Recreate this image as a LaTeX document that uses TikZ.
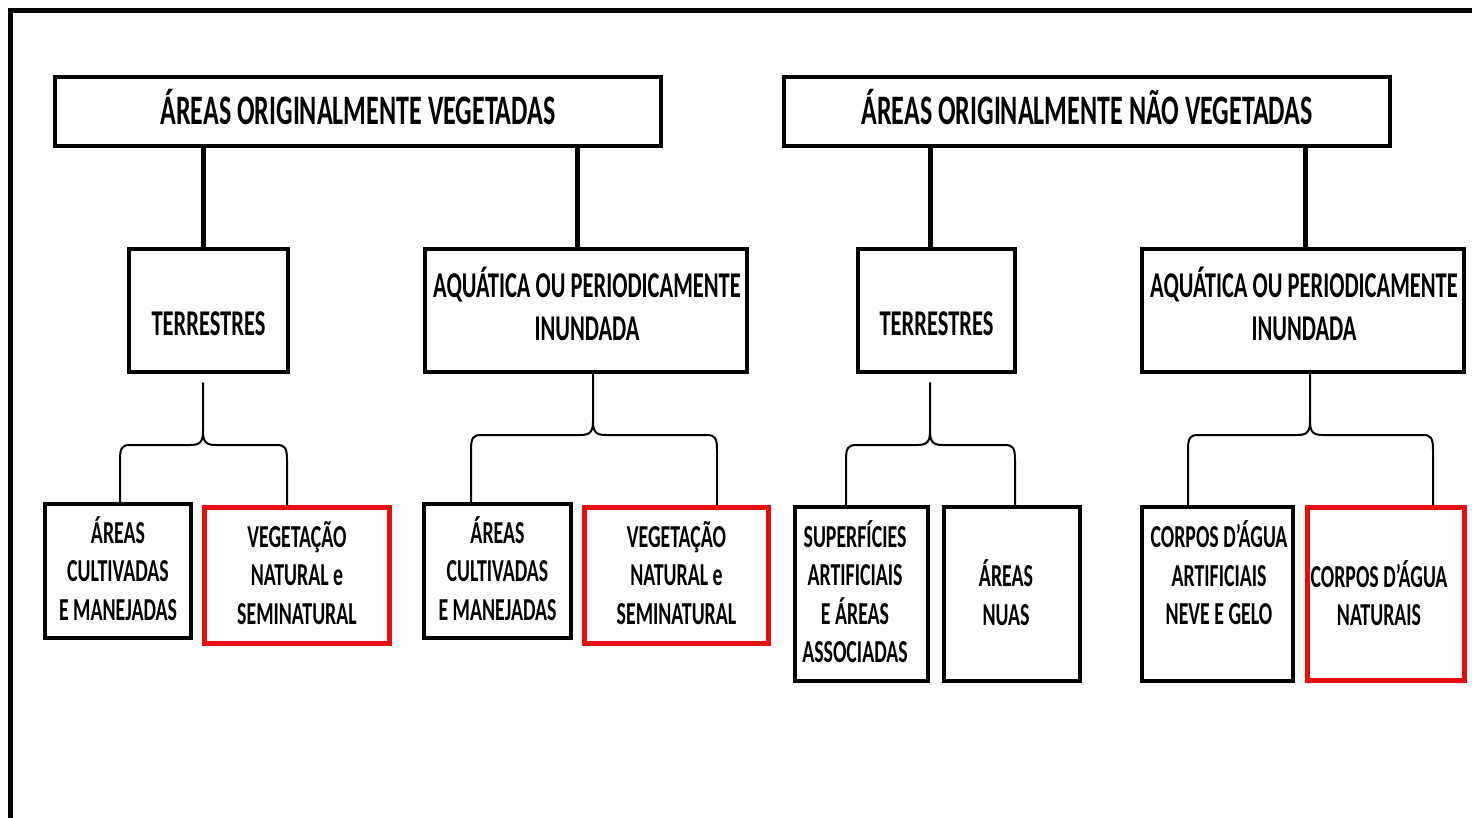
\documentclass[tikz,border=0pt]{standalone}
\usepackage{fontspec}
\usetikzlibrary{calc}
\newfontfamily\cf[FakeStretch=0.62]{Carlito}
\newcommand\mybrace[7]{%
  \path (#4,0) coordinate (bl) (#5,0) coordinate (br);
  \draw[brc] (#1,#2) -- (#1,#3-14) .. controls (#1,#3-3) and (#1-3,#3) .. (#1-13,#3)
     -- (#4+10,#3) .. controls (#4+2,#3) and (#4,#3+3) .. (#4,#3+15) -- (bl |- #6.north);
  \draw[brc] (#1,#3-14) .. controls (#1,#3-3) and (#1+3,#3) .. (#1+13,#3)
     -- (#5-10,#3) .. controls (#5-2,#3) and (#5,#3+3) .. (#5,#3+15) -- (br |- #7.north);
}
\begin{document}
\begin{tikzpicture}[x=1pt,y=-1pt,
  box/.style={draw=black,line width=4.5pt,rectangle,inner sep=0pt,fill=white},
  redbox/.style={box,draw={rgb,255:red,232;green,12;blue,12},line width=5.5pt},
  txt/.style={align=center,inner sep=0pt},
  ttl/.style={txt,font=\cf\bfseries\fontsize{42}{50}\selectfont},
  mid/.style={txt,font=\cf\bfseries\fontsize{36.3}{43}\selectfont},
  low/.style={txt,font=\cf\bfseries\fontsize{32}{38.5}\selectfont},
  conn/.style={line width=5pt},
  brc/.style={line width=2pt,line cap=round,line join=round}]
\useasboundingbox (0,0) rectangle (1472,817);
\fill[white] (0,0) rectangle (1472,817);
\draw[line width=5pt] (10.5,830) -- (10.5,10.5) -- (1485,10.5);
% top level
\node[box,minimum width=606,minimum height=69] (top1) at (358,111.5) {};
\node[ttl] (top1t) at (358,107.5) {ÁREAS ORIGINALMENTE VEGETADAS};
\node[box,minimum width=606,minimum height=69] (top2) at (1087,111.5) {};
\node[ttl] (top2t) at (1087,107.5) {ÁREAS ORIGINALMENTE NÃO VEGETADAS};
% second level
\node[box,minimum width=159,minimum height=123] (t1) at (208.5,310.5) {};
\node[mid] (t1t) at (208.5,323.5) {TERRESTRES};
\node[box,minimum width=322,minimum height=123] (a1) at (586,310.5) {};
\node[mid] (a1t) at (587,303.5) {AQUÁTICA OU PERIODICAMENTE\\INUNDADA};
\node[box,minimum width=157,minimum height=123] (t2) at (936.5,310.5) {};
\node[mid] (t2t) at (936.5,323.5) {TERRESTRES};
\node[box,minimum width=322,minimum height=123] (a2) at (1303,310.5) {};
\node[mid] (a2t) at (1304,303.5) {AQUÁTICA OU PERIODICAMENTE\\INUNDADA};
% third level
\node[box,minimum width=146,minimum height=134] (b1) at (118,571) {};
\node[low] (b1t) at (118,568.5) {ÁREAS\\CULTIVADAS\\E MANEJADAS};
\node[redbox,minimum width=185,minimum height=136] (v1) at (297,575.5) {};
\node[low] (v1t) at (297,573) {VEGETAÇÃO\\NATURAL e\\SEMINATURAL};
\node[box,minimum width=147,minimum height=134] (b2) at (497.5,571) {};
\node[low] (b2t) at (497.5,568.5) {ÁREAS\\CULTIVADAS\\E MANEJADAS};
\node[redbox,minimum width=184,minimum height=136] (v2) at (676.5,575.5) {};
\node[low] (v2t) at (676.5,573) {VEGETAÇÃO\\NATURAL e\\SEMINATURAL};
\node[box,minimum width=133,minimum height=174] (s1) at (861.5,594) {};
\node[low] (s1t) at (855,591.5) {SUPERFÍCIES\\ARTIFICIAIS\\E ÁREAS\\ASSOCIADAS};
\node[box,minimum width=136,minimum height=174] (n1) at (1012,594) {};
\node[low] (n1t) at (1006,592.5) {ÁREAS\\NUAS};
\node[box,minimum width=151,minimum height=174] (c1) at (1217.5,594) {};
\node[low] (c1t) at (1219,573) {CORPOS D’ÁGUA\\ARTIFICIAIS\\NEVE E GELO};
\node[redbox,minimum width=157,minimum height=173] (c2) at (1386,594) {};
\node[low] (c2t) at (1379,593) {CORPOS D’ÁGUA\\NATURAIS};
% connectors from top boxes
\draw[conn] ([xshift=-5.5pt]t1.north) -- ([xshift=-5.5pt]t1.north |- top1.south);
\draw[conn] ([xshift=-9pt]a1.north) -- ([xshift=-9pt]a1.north |- top1.south);
\draw[conn] ([xshift=-6.5pt]t2.north) -- ([xshift=-6.5pt]t2.north |- top2.south);
\draw[conn] ([xshift=2pt]a2.north) -- ([xshift=2pt]a2.north |- top2.south);
% braces
\mybrace{203}{383}{445}{120}{287}{b1}{v1}
\mybrace{593}{372}{435}{471}{717}{b2}{v2}
\mybrace{930}{383}{445}{846}{1015}{s1}{n1}
\mybrace{1310}{372}{435}{1188}{1433}{c1}{c2}
\end{tikzpicture}
\end{document}
